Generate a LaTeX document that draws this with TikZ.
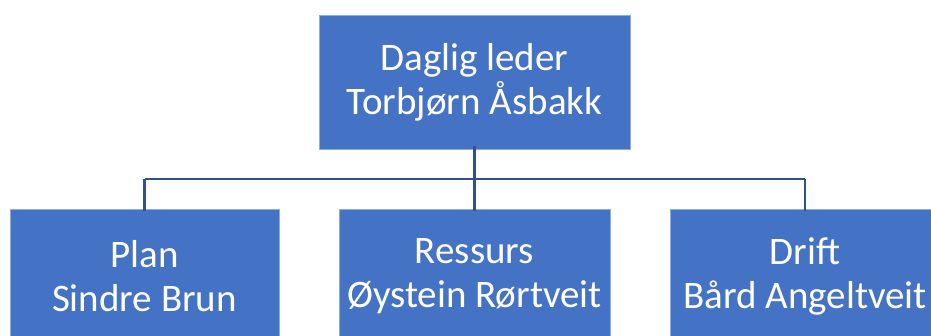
\documentclass[tikz,border=0pt]{standalone}
\usepackage{fontspec}
\setmainfont{Carlito}
\definecolor{boxblue}{HTML}{4472C4}
\definecolor{lineblue}{HTML}{2F528F}
\definecolor{edgeblue}{HTML}{8FAADC}
\begin{document}
\begin{tikzpicture}[x=1pt,y=-1pt,
  orgbox/.style={rectangle, fill=boxblue, draw=edgeblue, line width=0.8pt,
    minimum height=134pt, inner sep=0pt, align=center, text=white,
    font=\fontsize{39}{44}\selectfont},
  conn/.style={draw=lineblue, line width=2.6pt}]
\useasboundingbox (0,0) rectangle (931,336);
\node[orgbox, minimum width=311pt] (top) at (474.5,82) {Daglig leder\\Torbjørn Åsbakk};
\node[orgbox, minimum width=269pt] (plan) at (144.5,276) {Plan\\Sindre Brun};
\node[orgbox, minimum width=271pt] (res) at (474.5,276) {Ressurs\\Øystein Rørtveit};
\node[orgbox, minimum width=270pt] (drift) at (805,276) {Drift\\Bård Angeltveit};
\coordinate (hub) at (474.5,179);
\coordinate (hl) at (144.5,179);
\coordinate (hr) at (805,179);
\draw[conn] ([yshift=3pt]top.south) -- (hub);
\draw[conn] (hl) -- (hr);
\draw[conn] (hub) -- ([yshift=-2pt]res.north);
\draw[conn] (hl) -- ([yshift=-2pt]plan.north);
\draw[conn] (hr) -- ([yshift=-2pt]drift.north);
\end{tikzpicture}
\end{document}
